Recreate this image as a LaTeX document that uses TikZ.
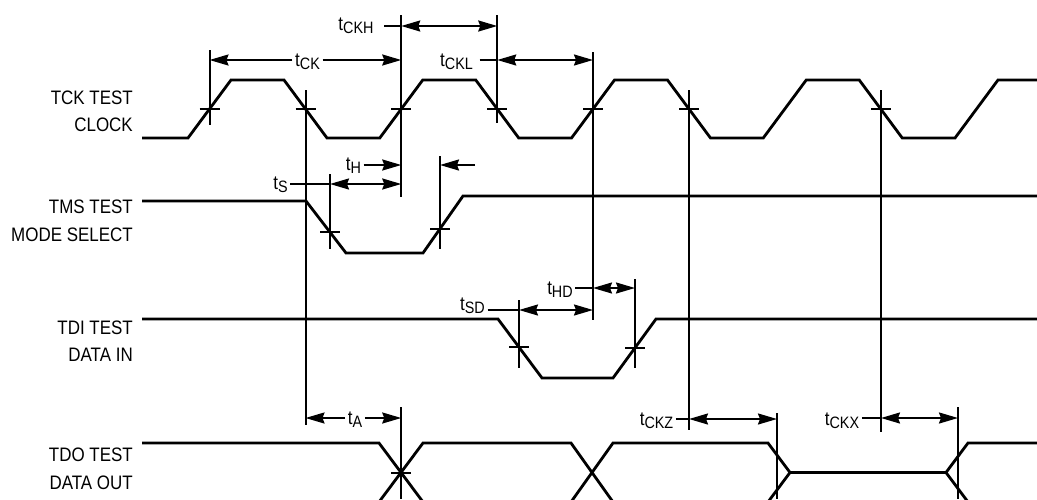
\documentclass[tikz,border=0pt]{standalone}
\usepackage{fontspec}
\setmainfont{Liberation Sans}
\usetikzlibrary{arrows.meta}
\newcommand\tsb[1]{\scalebox{0.87}[1]{t\raisebox{-3pt}{\fontsize{16.5}{16.5}\selectfont #1}}}
\newcommand\sigtext[1]{\scalebox{0.87}[1]{\begin{tabular}{@{}r@{}}#1\end{tabular}}}
\begin{document}
\begin{tikzpicture}[x=1pt,y=-1pt,
  wave/.style={line width=2.8pt},
  vline/.style={line width=2pt},
  dim/.style={line width=2pt},
  >={Stealth[length=19pt,width=11pt,inset=2pt]},
  sig/.style={font=\fontsize{19.5}{27.5}\selectfont, inner sep=0pt, anchor=east},
  tl/.style={font=\fontsize{19.5}{19.5}\selectfont, inner xsep=2.5pt, inner ysep=0pt, anchor=base}]
\useasboundingbox (0,0) rectangle (1037,499);
\clip (0,0) rectangle (1037,499);

% signal names
\node[sig] (ntck) at (133,112.5) {\sigtext{TCK TEST\\CLOCK}};
\node[sig] (ntms) at (133,222) {\sigtext{TMS TEST\\MODE SELECT}};
\node[sig] (ntdi) at (133,342.5) {\sigtext{TDI TEST\\DATA IN}};
\node[sig] (ntdo) at (133,470) {\sigtext{TDO TEST\\DATA OUT}};

% TCK
\draw[wave] (142,138) -- (188,138) -- (231,80) -- (284,80) -- (327,138)
  -- (379.75,138) -- (422.75,80) -- (475.75,80) -- (518.75,138)
  -- (571.5,138) -- (614.5,80) -- (667.5,80) -- (710.5,138)
  -- (763.25,138) -- (806.25,80) -- (859.25,80) -- (902.25,138)
  -- (955,138) -- (998,80) -- (1037,80);
% TMS
\draw[wave] (142,201) -- (306,201) -- (346,253) -- (423,253) -- (463,196) -- (1037,196);
% TDI
\draw[wave] (142,319) -- (498,319) -- (542,378) -- (613,378) -- (656,319) -- (1037,319);
% TDO
\draw[wave] (142,443) -- (379,443) -- (423,502) -- (571,502) -- (613,443) -- (768,443)
  -- (790,472.5) -- (946,472.5) -- (968,443) -- (1037,443);
\draw[wave] (379,502) -- (423,443) -- (571,443) -- (613,502) -- (768,502) -- (790,472.5);
\draw[wave] (946,472.5) -- (968,502) -- (1037,502);

% vertical reference lines
\foreach \x/\ya/\yb in {209.5/50/125, 305.5/90/425, 401.25/15/197, 497.25/15/123,
  593/52/320, 689/90/430, 881/90/432, 330/174/249, 440/156/249, 519/300/368,
  635/279/368, 401.25/407/499, 777/413/499, 958/407/499}
  \draw[vline] (\x,\ya) -- (\x,\yb);

% crossing ticks
\foreach \x/\y in {209.5/109, 305.5/109, 401.25/109, 497.25/109, 593/109, 689/109,
  881/109, 330/232, 440/229, 519/347, 635/348, 401.25/472.5}
  \draw[vline] (\x-10,\y) -- (\x+10,\y);

% tCK
\node[tl] (lck) at (307.5,66) {\tsb{CK}};
\coordinate (ck1) at (209.5,60); \coordinate (ck2) at (401.25,60);
\draw[dim,->] (lck.west |- ck1) -- (ck1);
\draw[dim,->] (lck.east |- ck2) -- (ck2);
% tCKH
\node[tl] (lckh) at (356,30) {\tsb{CKH}};
\coordinate (ckh1) at (401.25,26); \coordinate (ckh2) at (497.25,26);
\draw[dim,shorten <=8pt] (lckh.east |- ckh1) -- (ckh1);
\draw[dim,<->] (ckh1) -- (ckh2);
% tCKL
\node[tl] (lckl) at (456.5,66) {\tsb{CKL}};
\coordinate (ckl1) at (497.25,60); \coordinate (ckl2) at (593,60);
\draw[dim,shorten <=4pt] (lckl.east |- ckl1) -- (ckl1);
\draw[dim,<->] (ckl1) -- (ckl2);
% tH
\node[tl] (lh) at (353.5,170) {\tsb{H}};
\coordinate (h1) at (401.25,165); \coordinate (h2) at (440,165); \coordinate (h3) at (475,165);
\draw[dim,->] (lh.east |- h1) -- (h1);
\draw[dim,->] (h3) -- (h2);
% tS
\node[tl] (ls) at (280.5,189) {\tsb{S}};
\coordinate (s1) at (330,184); \coordinate (s2) at (401.25,184);
\draw[dim] (ls.east |- s1) -- (s1);
\draw[dim,<->] (s1) -- (s2);
% tSD
\node[tl] (lsd) at (472.5,310) {\tsb{SD}};
\coordinate (sd1) at (519,310); \coordinate (sd2) at (593,310);
\draw[dim] (lsd.east |- sd1) -- (sd1);
\draw[dim,<->] (sd1) -- (sd2);
% tHD
\node[tl] (lhd) at (560,294) {\tsb{HD}};
\coordinate (hd1) at (593,288); \coordinate (hd2) at (635,288);
\draw[dim] (lhd.east |- hd1) -- (hd1);
\draw[dim,<->] (hd1) -- (hd2);
% tA
\node[tl] (la) at (355,424) {\tsb{A}};
\coordinate (a1) at (305.5,418); \coordinate (a2) at (401.25,418);
\draw[dim,->] (la.west |- a1) -- (a1);
\draw[dim,->] (la.east |- a2) -- (a2);
% tCKZ
\node[tl] (lckz) at (656.5,425) {\tsb{CKZ}};
\coordinate (z1) at (689,419); \coordinate (z2) at (777,419);
\draw[dim] (lckz.east |- z1) -- (z1);
\draw[dim,<->] (z1) -- (z2);
% tCKX
\node[tl] (lckx) at (842,425) {\tsb{CKX}};
\coordinate (x1) at (881,418); \coordinate (x2) at (958,418);
\draw[dim] (lckx.east |- x1) -- (x1);
\draw[dim,<->] (x1) -- (x2);
\end{tikzpicture}
\end{document}
